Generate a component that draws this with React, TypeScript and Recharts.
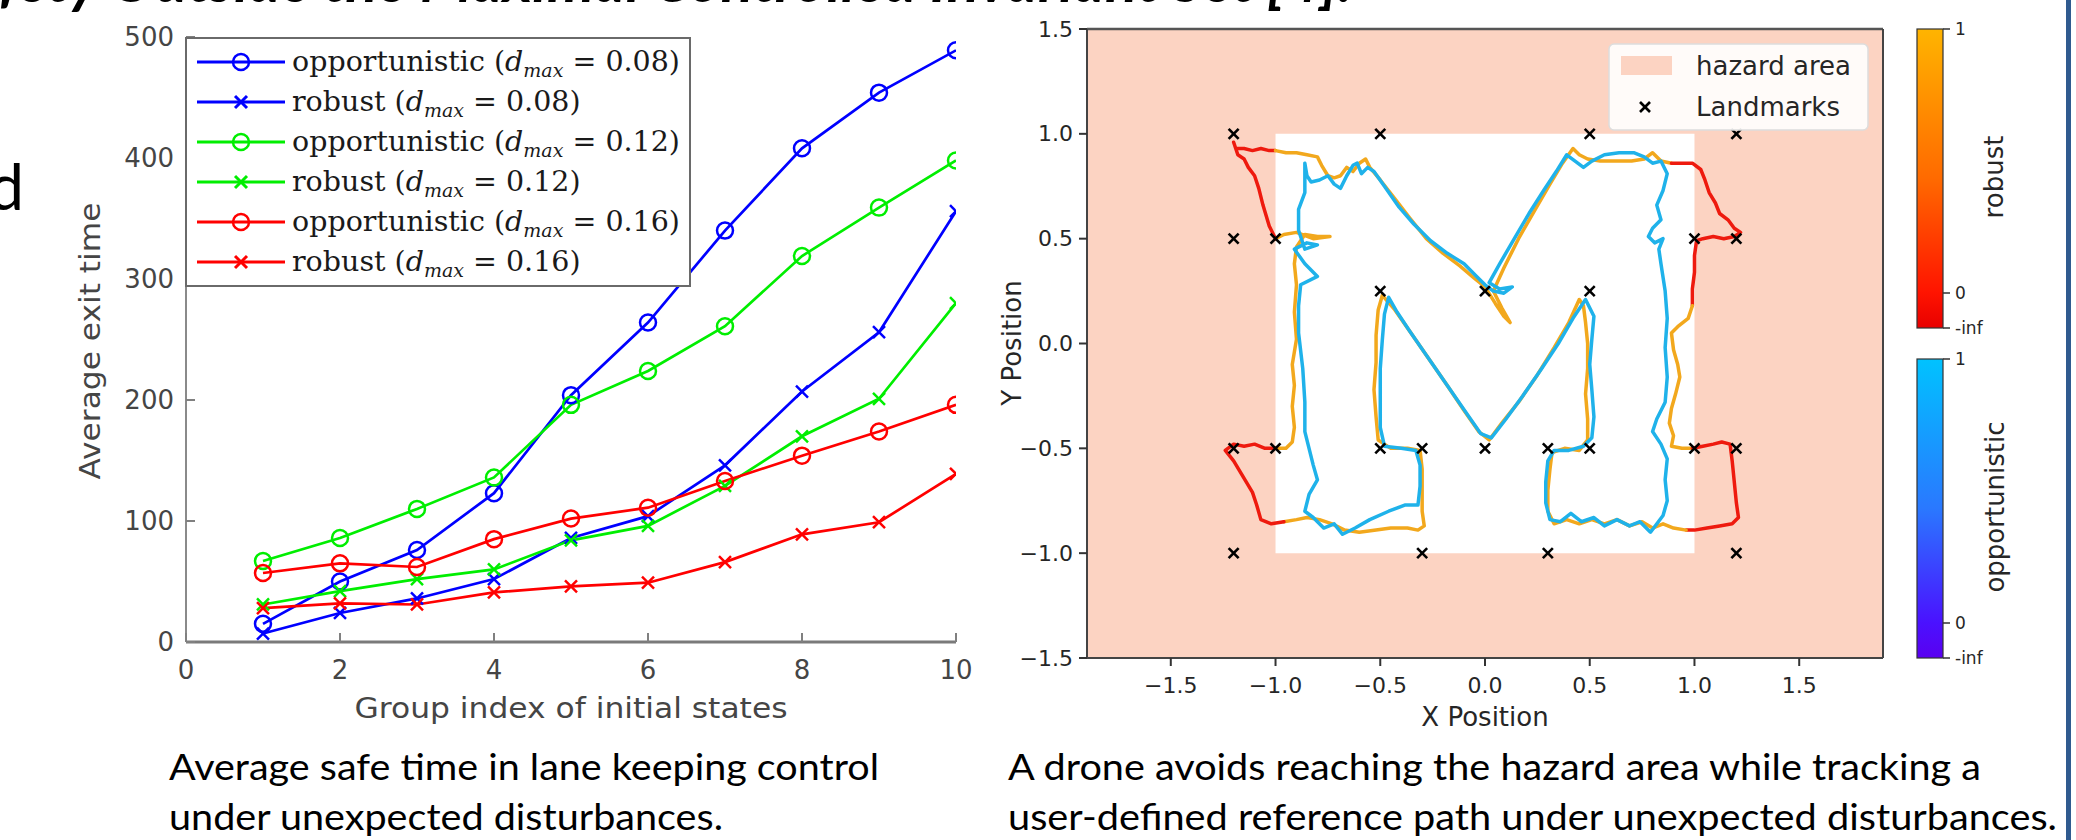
import React from 'react';
import {
  LineChart, Line, XAxis, YAxis, ComposedChart, ReferenceArea, ReferenceLine, Scatter,
} from 'recharts';

// ---------------- Left chart data ----------------
const groups = [1, 2, 3, 4, 5, 6, 7, 8, 9, 10];
const opp008 = [15, 50, 76, 123, 204, 264, 340, 408, 454, 489];
const rob008 = [7, 24, 36, 52, 86, 104, 146, 207, 256, 356];
const opp012 = [67, 86, 110, 136, 196, 224, 261, 319, 359, 398];
const rob012 = [31, 42, 52, 60, 84, 96, 129, 170, 201, 280];
const opp016 = [57, 65, 62, 85, 102, 111, 133, 154, 174, 196];
const rob016 = [28, 32, 31, 41, 46, 49, 66, 89, 99, 139];
const leftXTicks = [0, 2, 4, 6, 8, 10];
const leftYTicks = [0, 100, 200, 300, 400, 500];

const seriesDefs = [
  { key: 'opp008', values: opp008, kind: 'opportunistic', dmax: '0.08', color: '#0000ff' },
  { key: 'rob008', values: rob008, kind: 'robust', dmax: '0.08', color: '#0000ff' },
  { key: 'opp012', values: opp012, kind: 'opportunistic', dmax: '0.12', color: '#00ee00' },
  { key: 'rob012', values: rob012, kind: 'robust', dmax: '0.12', color: '#00ee00' },
  { key: 'opp016', values: opp016, kind: 'opportunistic', dmax: '0.16', color: '#ff0000' },
  { key: 'rob016', values: rob016, kind: 'robust', dmax: '0.16', color: '#ff0000' },
];

const leftData = groups.map((g, i) => {
  const row: any = { x: g };
  seriesDefs.forEach((s) => { row[s.key] = s.values[i]; });
  return row;
});

// ---------------- Right chart data ----------------
const posTicks = [-1.5, -1.0, -0.5, 0.0, 0.5, 1.0, 1.5];
const landmarks = [
  [-1.2, 1], [-0.5, 1], [0.5, 1], [1.2, 1],
  [-1.2, 0.5], [-1.0, 0.5], [1.0, 0.5], [1.2, 0.5],
  [-0.5, 0.25], [0, 0.25], [0.5, 0.25],
  [-1.2, -0.5], [-1.0, -0.5], [-0.5, -0.5], [-0.3, -0.5], [0, -0.5], [0.3, -0.5], [0.5, -0.5], [1.0, -0.5], [1.2, -0.5],
  [-1.2, -1], [-0.3, -1], [0.3, -1], [1.2, -1],
];

// robust trajectory, split by zone (safe = inside white square, hazard = outside)
const robustSafeLeft = [[-1.00,-0.50],[-0.95,-0.50],[-0.92,-0.47],[-0.91,-0.40],[-0.92,-0.30],[-0.91,-0.20],[-0.92,-0.10],[-0.90,0.02],[-0.91,0.15],[-0.90,0.28],[-0.91,0.38],[-0.90,0.46],[-0.86,0.52],[-0.80,0.51],[-0.74,0.51],[-0.82,0.50],[-0.90,0.53],[-0.96,0.52],[-1.00,0.50]];
const robustHazardTopLeft = [[-1.00,0.50],[-1.03,0.56],[-1.06,0.66],[-1.08,0.74],[-1.10,0.80],[-1.13,0.84],[-1.15,0.88],[-1.18,0.90],[-1.20,0.96],[-1.19,0.93],[-1.15,0.93],[-1.11,0.92],[-1.07,0.93],[-1.03,0.92],[-1.00,0.92]];
const robustSafeTop = [[-1.00,0.92],[-0.95,0.91],[-0.90,0.91],[-0.85,0.90],[-0.80,0.89],[-0.78,0.85],[-0.75,0.80],[-0.72,0.79],[-0.69,0.80],[-0.66,0.84],[-0.63,0.82],[-0.60,0.86],[-0.57,0.88],[-0.55,0.84],[-0.50,0.78],[-0.43,0.69],[-0.36,0.60],[-0.28,0.50],[-0.20,0.43],[-0.12,0.37],[-0.05,0.31],[0.00,0.27],[0.05,0.19],[0.09,0.13],[0.12,0.10],[0.08,0.17],[0.04,0.25],[0.09,0.36],[0.16,0.50],[0.24,0.64],[0.31,0.76],[0.37,0.86],[0.42,0.93],[0.45,0.90],[0.49,0.88],[0.55,0.87],[0.62,0.87],[0.70,0.87],[0.76,0.88],[0.80,0.91],[0.84,0.87],[0.89,0.86]];
const robustHazardRightUpper = [[0.89,0.86],[0.94,0.86],[0.99,0.86],[1.03,0.83],[1.05,0.78],[1.07,0.72],[1.10,0.67],[1.12,0.62],[1.16,0.59],[1.19,0.55],[1.22,0.53],[1.19,0.51],[1.14,0.50],[1.09,0.51],[1.04,0.50],[1.01,0.49],[1.00,0.42],[1.00,0.34],[0.99,0.26],[0.99,0.18]];
const robustSafeRight = [[0.99,0.18],[0.97,0.12],[0.92,0.08],[0.89,0.05],[0.90,-0.03],[0.92,-0.10],[0.93,-0.16],[0.91,-0.24],[0.89,-0.31],[0.88,-0.38],[0.90,-0.44],[0.89,-0.49],[0.94,-0.50],[0.99,-0.50]];
const robustHazardRightLower = [[0.99,-0.50],[1.04,-0.49],[1.09,-0.48],[1.13,-0.47],[1.17,-0.48],[1.18,-0.56],[1.19,-0.66],[1.20,-0.76],[1.21,-0.83],[1.18,-0.86],[1.12,-0.87],[1.06,-0.88],[1.00,-0.89],[0.96,-0.89]];
const robustSafeBottom = [[0.96,-0.89],[0.90,-0.88],[0.85,-0.86],[0.80,-0.88],[0.75,-0.85],[0.69,-0.87],[0.63,-0.84],[0.57,-0.86],[0.51,-0.84],[0.45,-0.86],[0.39,-0.84],[0.33,-0.86],[0.30,-0.80],[0.30,-0.70],[0.31,-0.60],[0.32,-0.52],[0.38,-0.50],[0.45,-0.51],[0.49,-0.46],[0.49,-0.36],[0.48,-0.24],[0.49,-0.12],[0.49,0.00],[0.48,0.10],[0.47,0.18],[0.45,0.21],[0.40,0.10],[0.33,-0.02],[0.25,-0.15],[0.16,-0.28],[0.08,-0.38],[0.02,-0.46],[-0.03,-0.42],[-0.10,-0.32],[-0.18,-0.20],[-0.27,-0.07],[-0.36,0.06],[-0.43,0.16],[-0.49,0.23],[-0.51,0.16],[-0.52,0.04],[-0.52,-0.09],[-0.53,-0.22],[-0.52,-0.35],[-0.51,-0.46],[-0.45,-0.50],[-0.37,-0.50],[-0.31,-0.51],[-0.30,-0.60],[-0.30,-0.70],[-0.30,-0.80],[-0.29,-0.87],[-0.32,-0.89],[-0.37,-0.88],[-0.45,-0.88],[-0.52,-0.89],[-0.60,-0.90],[-0.67,-0.89],[-0.73,-0.86],[-0.79,-0.84],[-0.85,-0.83],[-0.90,-0.84],[-0.96,-0.85]];
const robustHazardBottomLeft = [[-0.96,-0.85],[-1.02,-0.86],[-1.07,-0.84],[-1.09,-0.77],[-1.11,-0.71],[-1.14,-0.66],[-1.17,-0.61],[-1.20,-0.56],[-1.24,-0.51],[-1.20,-0.48],[-1.15,-0.49],[-1.10,-0.48],[-1.05,-0.50],[-1.00,-0.50]];

const robustSegments = [
  { zone: 'safe', pts: robustSafeLeft },
  { zone: 'hazard', pts: robustHazardTopLeft },
  { zone: 'safe', pts: robustSafeTop },
  { zone: 'hazard', pts: robustHazardRightUpper },
  { zone: 'safe', pts: robustSafeRight },
  { zone: 'hazard', pts: robustHazardRightLower },
  { zone: 'safe', pts: robustSafeBottom },
  { zone: 'hazard', pts: robustHazardBottomLeft },
];

const opportunisticPath = [[-0.86,0.86],[-0.85,0.80],[-0.83,0.77],[-0.79,0.78],[-0.75,0.80],[-0.72,0.76],[-0.69,0.74],[-0.66,0.80],[-0.63,0.85],[-0.61,0.86],[-0.59,0.81],[-0.56,0.84],[-0.53,0.82],[-0.48,0.75],[-0.41,0.65],[-0.34,0.57],[-0.26,0.49],[-0.18,0.43],[-0.10,0.38],[-0.04,0.32],[0.00,0.28],[0.04,0.25],[0.09,0.24],[0.13,0.27],[0.07,0.26],[0.02,0.29],[0.07,0.38],[0.14,0.50],[0.21,0.62],[0.28,0.73],[0.34,0.82],[0.39,0.90],[0.43,0.87],[0.47,0.84],[0.51,0.87],[0.57,0.90],[0.64,0.91],[0.71,0.91],[0.76,0.89],[0.80,0.86],[0.84,0.87],[0.87,0.81],[0.85,0.73],[0.82,0.66],[0.84,0.59],[0.80,0.55],[0.78,0.51],[0.81,0.48],[0.85,0.50],[0.83,0.45],[0.84,0.38],[0.86,0.25],[0.87,0.12],[0.86,-0.02],[0.87,-0.16],[0.86,-0.28],[0.82,-0.36],[0.80,-0.42],[0.84,-0.48],[0.87,-0.55],[0.86,-0.65],[0.87,-0.75],[0.85,-0.82],[0.79,-0.90],[0.74,-0.85],[0.69,-0.87],[0.63,-0.84],[0.57,-0.87],[0.52,-0.83],[0.46,-0.85],[0.41,-0.81],[0.36,-0.85],[0.31,-0.84],[0.29,-0.76],[0.29,-0.66],[0.30,-0.56],[0.33,-0.51],[0.40,-0.51],[0.47,-0.49],[0.51,-0.45],[0.52,-0.35],[0.51,-0.22],[0.50,-0.10],[0.51,0.02],[0.52,0.13],[0.48,0.21],[0.42,0.12],[0.35,0.00],[0.27,-0.12],[0.18,-0.25],[0.10,-0.36],[0.03,-0.45],[-0.02,-0.43],[-0.09,-0.33],[-0.18,-0.20],[-0.27,-0.07],[-0.36,0.06],[-0.42,0.15],[-0.46,0.22],[-0.48,0.14],[-0.49,0.02],[-0.50,-0.12],[-0.50,-0.26],[-0.50,-0.40],[-0.48,-0.49],[-0.40,-0.50],[-0.33,-0.51],[-0.31,-0.58],[-0.31,-0.68],[-0.32,-0.77],[-0.38,-0.77],[-0.46,-0.80],[-0.55,-0.84],[-0.62,-0.88],[-0.68,-0.91],[-0.72,-0.86],[-0.77,-0.88],[-0.82,-0.83],[-0.86,-0.80],[-0.84,-0.72],[-0.80,-0.65],[-0.82,-0.58],[-0.84,-0.50],[-0.86,-0.42],[-0.86,-0.28],[-0.87,-0.12],[-0.89,0.05],[-0.89,0.18],[-0.88,0.28],[-0.80,0.32],[-0.86,0.38],[-0.91,0.45],[-0.85,0.48],[-0.80,0.47],[-0.86,0.45],[-0.89,0.54],[-0.89,0.64],[-0.86,0.72],[-0.86,0.80],[-0.86,0.86]];

const toPts = (arr: number[][]) => arr.map(([x, y]) => ({ x, y }));

// ---------------- styling ----------------
const SANS = "'DejaVu Sans', sans-serif";
const SERIF = "'DejaVu Serif', serif";
const SLIDE = "Lato, 'Open Sans', sans-serif";
const ROBUST_SAFE = '#f2a81d';
const ROBUST_HAZARD = '#ee1a0e';
const OPP_COLOR = '#1fb2ea';
const HAZARD_FILL = '#fcd3c2';

const fmtPos = (v: number) => (v < 0 ? '\u2212' + Math.abs(v).toFixed(1) : v.toFixed(1));

function CircleMark({ cx, cy, color }: any) {
  if (cx == null || cy == null) return null;
  return <circle cx={cx} cy={cy} r={8} fill="none" stroke={color} strokeWidth={2.5} />;
}
function CrossMark({ cx, cy, color, s = 6, w = 2.5 }: any) {
  if (cx == null || cy == null) return null;
  return (
    <g>
      <line x1={cx - s} y1={cy - s} x2={cx + s} y2={cy + s} stroke={color} strokeWidth={w} />
      <line x1={cx - s} y1={cy + s} x2={cx + s} y2={cy - s} stroke={color} strokeWidth={w} />
    </g>
  );
}

function LeftYTick({ x, y, payload }: any) {
  return (
    <g>
      <line x1={x} x2={x + 9} y1={y} y2={y} stroke="#808080" strokeWidth={2} />
      <text x={x - 12} y={y} textAnchor="end" dominantBaseline="central" fontFamily={SANS} fontSize={26} fill="#454545">{payload.value}</text>
    </g>
  );
}
function LeftXTick({ x, y, payload }: any) {
  return (
    <g>
      <line x1={x} x2={x} y1={y} y2={y - 9} stroke="#808080" strokeWidth={2} />
      <text x={x} y={y + 28} textAnchor="middle" dominantBaseline="central" fontFamily={SANS} fontSize={26} fill="#454545">{payload.value}</text>
    </g>
  );
}
function RightYTick({ x, y, payload }: any) {
  return (
    <g>
      <line x1={x - 8} x2={x} y1={y} y2={y} stroke="#333" strokeWidth={2} />
      <text x={x - 14} y={y} textAnchor="end" dominantBaseline="central" fontFamily={SANS} fontSize={22} fill="#262626">{fmtPos(payload.value)}</text>
    </g>
  );
}
function RightXTick({ x, y, payload }: any) {
  return (
    <g>
      <line x1={x} x2={x} y1={y} y2={y + 8} stroke="#333" strokeWidth={2} />
      <text x={x} y={y + 27} textAnchor="middle" dominantBaseline="central" fontFamily={SANS} fontSize={22} fill="#262626">{fmtPos(payload.value)}</text>
    </g>
  );
}

function LeftChart() {
  return (
    <LineChart width={1000} height={742} data={leftData} margin={{ top: 37, right: 44, bottom: 0, left: 0 }}>
      <XAxis type="number" dataKey="x" domain={[0, 10]} ticks={leftXTicks} interval={0} height={100}
        tickSize={0} tickMargin={0} tickLine={false} tick={<LeftXTick />}
        axisLine={{ stroke: '#7a7a7a', strokeWidth: 3 }} allowDataOverflow />
      <YAxis type="number" domain={[0, 500]} ticks={leftYTicks} interval={0} width={186}
        tickSize={0} tickMargin={0} tickLine={false} tick={<LeftYTick />}
        axisLine={{ stroke: '#8a8a8a', strokeWidth: 2 }} allowDataOverflow />
      {seriesDefs.map((s) => (
        <Line key={s.key} dataKey={s.key} stroke={s.color} strokeWidth={2.7} isAnimationActive={false}
          dot={(p: any) => (s.kind === 'opportunistic'
            ? <CircleMark key={p.index} cx={p.cx} cy={p.cy} color={s.color} />
            : <CrossMark key={p.index} cx={p.cx} cy={p.cy} color={s.color} s={6} w={2.5} />)} />
      ))}
    </LineChart>
  );
}

function RightChart() {
  return (
    <ComposedChart width={900} height={758} margin={{ top: 29, right: 17, bottom: 0, left: 0 }}>
      <XAxis type="number" dataKey="x" domain={[-1.9, 1.9]} ticks={posTicks} interval={0} height={100}
        tickSize={0} tickMargin={0} tickLine={false} tick={<RightXTick />} axisLine={false} allowDataOverflow />
      <YAxis type="number" dataKey="y" domain={[-1.5, 1.5]} ticks={posTicks} interval={0} width={87}
        tickSize={0} tickMargin={0} tickLine={false} tick={<RightYTick />} axisLine={false} allowDataOverflow />
      <ReferenceArea x1={-1.9} x2={1.9} y1={-1.5} y2={1.5} fill={HAZARD_FILL} fillOpacity={1} stroke="none" />
      <ReferenceArea x1={-1} x2={1} y1={-1} y2={1} fill="#ffffff" fillOpacity={1} stroke="none" />
      {robustSegments.map((seg, i) => (
        <Line key={'r' + i} data={toPts(seg.pts)} dataKey="y" stroke={seg.zone === 'safe' ? ROBUST_SAFE : ROBUST_HAZARD}
          strokeWidth={3.5} dot={false} isAnimationActive={false} strokeLinejoin="round" strokeLinecap="round" />
      ))}
      <Line data={toPts(opportunisticPath)} dataKey="y" stroke={OPP_COLOR} strokeWidth={3.5} dot={false}
        isAnimationActive={false} strokeLinejoin="round" strokeLinecap="round" />
      <Scatter data={toPts(landmarks)} dataKey="y" isAnimationActive={false}
        shape={(p: any) => <CrossMark cx={p.cx} cy={p.cy} color="#000" s={5} w={2.6} />} />
      <ReferenceLine y={1.5} stroke="#555" strokeWidth={2.5} />
      <ReferenceLine y={-1.5} stroke="#444" strokeWidth={2} />
      <ReferenceLine x={-1.9} stroke="#444" strokeWidth={2} />
      <ReferenceLine x={1.9} stroke="#444" strokeWidth={2} />
    </ComposedChart>
  );
}

function LegendLabel({ x, y, kind, dmax }: any) {
  return (
    <text x={x} y={y} fontFamily={SERIF} fontSize={28.5} fill="#1a1a1a">
      <tspan>{kind} (</tspan>
      <tspan fontStyle="italic">d</tspan>
      <tspan fontStyle="italic" fontSize={19} dy={6}>max</tspan>
      <tspan dy={-6}> = {dmax})</tspan>
    </text>
  );
}

function Overlay() {
  const rows = [62, 102, 142, 182, 222, 262];
  return (
    <svg width={2076} height={840} style={{ position: 'absolute', left: 0, top: 0, pointerEvents: 'none' }}>
      <defs>
        <linearGradient id="gRobust" x1="0" y1="0" x2="0" y2="1">
          <stop offset="0" stopColor="#ffb400" />
          <stop offset="0.5" stopColor="#ff6a00" />
          <stop offset="0.88" stopColor="#ff1400" />
          <stop offset="1" stopColor="#e80000" />
        </linearGradient>
        <linearGradient id="gOpp" x1="0" y1="0" x2="0" y2="1">
          <stop offset="0" stopColor="#00c2ff" />
          <stop offset="0.5" stopColor="#2a78ff" />
          <stop offset="0.88" stopColor="#4a12ff" />
          <stop offset="1" stopColor="#5a00f0" />
        </linearGradient>
      </defs>

      {/* slide title (cut off at top, as in the slide) */}
      <text x={1352} y={2} textAnchor="end" fontFamily={SLIDE} fontStyle="italic" fontWeight={700} fontSize={60} fill="#000">
        Opportunistic Safety Outside the Maximal Controlled Invariant Set [4].
      </text>
      <text x={24} y={210} textAnchor="end" fontFamily={SLIDE} fontSize={64} fill="#000">d</text>

      {/* left legend */}
      <rect x={186} y={38} width={504} height={248} fill="#fff" stroke="#6a6a6a" strokeWidth={2} />
      {seriesDefs.map((s, i) => (
        <g key={s.key}>
          <line x1={197} x2={285} y1={rows[i]} y2={rows[i]} stroke={s.color} strokeWidth={3} />
          {s.kind === 'opportunistic'
            ? <CircleMark cx={241} cy={rows[i]} color={s.color} />
            : <CrossMark cx={241} cy={rows[i]} color={s.color} s={6} w={3} />}
          <LegendLabel x={292} y={rows[i] + 9} kind={s.kind} dmax={s.dmax} />
        </g>
      ))}

      {/* left axis labels */}
      <text x={0} y={0} transform="translate(90,341) rotate(-90)" textAnchor="middle" dominantBaseline="central"
        fontFamily={SANS} fontSize={28} fill="#454545" textLength={277} lengthAdjust="spacingAndGlyphs">Average exit time</text>
      <text x={571} y={708} textAnchor="middle" dominantBaseline="central" fontFamily={SANS} fontSize={28} fill="#454545"
        textLength={433} lengthAdjust="spacingAndGlyphs">Group index of initial states</text>

      {/* right axis labels */}
      <text x={0} y={0} transform="translate(1012,343) rotate(-90)" textAnchor="middle" dominantBaseline="central"
        fontFamily={SANS} fontSize={26} fill="#262626">Y Position</text>
      <text x={1485} y={717} textAnchor="middle" dominantBaseline="central" fontFamily={SANS} fontSize={26} fill="#262626">X Position</text>

      {/* right legend */}
      <rect x={1609} y={44} width={259} height={86} rx={5} fill="#fff" fillOpacity={0.9} stroke="#dddddd" strokeWidth={1.5} />
      <rect x={1621} y={56} width={51} height={19} fill={HAZARD_FILL} />
      <text x={1696} y={66} dominantBaseline="central" fontFamily={SANS} fontSize={26} fill="#262626">hazard area</text>
      <CrossMark cx={1645} cy={107} color="#000" s={5} w={2.6} />
      <text x={1696} y={107} dominantBaseline="central" fontFamily={SANS} fontSize={26} fill="#262626">Landmarks</text>

      {/* colorbars */}
      <rect x={1917} y={29} width={26} height={299} fill="url(#gRobust)" stroke="#333" strokeWidth={1.2} />
      <rect x={1917} y={359} width={26} height={299} fill="url(#gOpp)" stroke="#333" strokeWidth={1.2} />
      {[[29, '1'], [293, '0'], [328, '-inf'], [359, '1'], [623, '0'], [658, '-inf']].map(([yy, lab], i) => (
        <g key={i}>
          <line x1={1943} x2={1950} y1={yy as number} y2={yy as number} stroke="#333" strokeWidth={1.5} />
          <text x={1955} y={yy as number} dominantBaseline="central" fontFamily={SANS} fontSize={17} fill="#262626">{lab}</text>
        </g>
      ))}
      <text x={0} y={0} transform="translate(1994,177) rotate(-90)" textAnchor="middle" dominantBaseline="central"
        fontFamily={SANS} fontSize={26} fill="#262626">robust</text>
      <text x={0} y={0} transform="translate(1995,507) rotate(-90)" textAnchor="middle" dominantBaseline="central"
        fontFamily={SANS} fontSize={26} fill="#262626">opportunistic</text>

      {/* captions */}
      <text x={169} y={780} fontFamily={SLIDE} fontSize={37} fill="#000" textLength={710} lengthAdjust="spacingAndGlyphs">Average safe time in lane keeping control</text>
      <text x={169} y={830} fontFamily={SLIDE} fontSize={37} fill="#000" textLength={554} lengthAdjust="spacingAndGlyphs">under unexpected disturbances.</text>
      <text x={1008} y={780} fontFamily={SLIDE} fontSize={37} fill="#000" textLength={973} lengthAdjust="spacingAndGlyphs">A drone avoids reaching the hazard area while tracking a</text>
      <text x={1008} y={830} fontFamily={SLIDE} fontSize={37} fill="#000" textLength={1049} lengthAdjust="spacingAndGlyphs">user-defined reference path under unexpected disturbances.</text>

      {/* slide border */}
      <rect x={2066} y={0} width={5} height={840} fill="#2f5a8f" />
    </svg>
  );
}

export default function App() {
  return (
    <div style={{ position: 'absolute', left: 0, top: 0, width: 2076, height: 840, background: '#fff', overflow: 'hidden' }}>
      <div style={{ position: 'absolute', left: 0, top: 0 }}>
        <LeftChart />
      </div>
      <div style={{ position: 'absolute', left: 1000, top: 0 }}>
        <RightChart />
      </div>
      <Overlay />
    </div>
  );
}
